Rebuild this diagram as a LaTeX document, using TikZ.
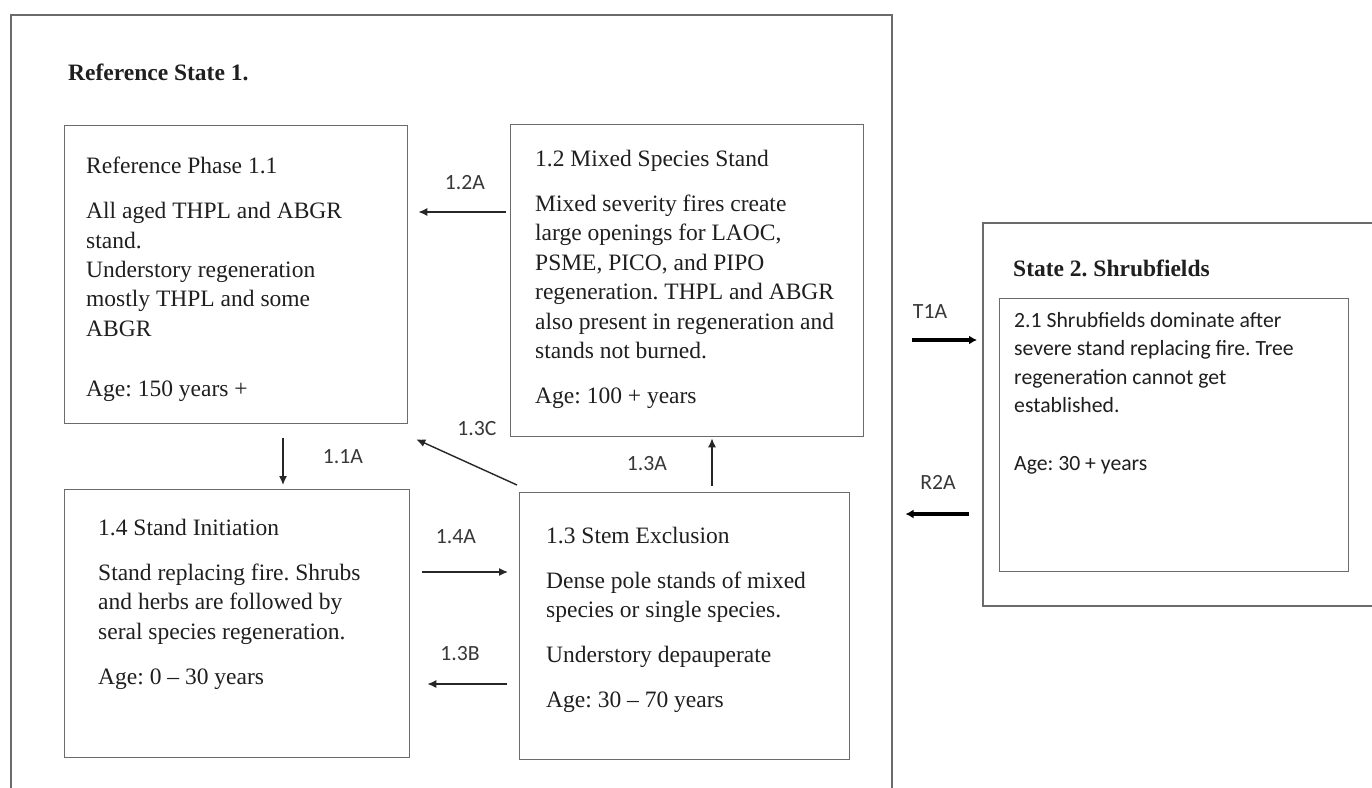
\documentclass[tikz,border=0pt]{standalone}
\usepackage{fontspec}
\setmainfont{Liberation Serif}
\newfontfamily\calibri{Carlito}
\usetikzlibrary{calc,arrows.meta}
\definecolor{boxline}{gray}{0.42}
\definecolor{inktext}{gray}{0.12}
\frenchspacing
\tikzset{
	statebox/.style={draw=boxline, line width=1.5pt, rectangle, inner sep=0pt, anchor=north west},
	phasebox/.style={draw=boxline, line width=1.3pt, rectangle, inner sep=0pt, anchor=north west},
	phasetext/.style={anchor=north west, inner sep=0pt, align=left, text=inktext, font=\fontsize{23.5}{29.4}\selectfont},
	sanstext/.style={anchor=north west, inner sep=0pt, align=left, text=inktext, font=\calibri\fontsize{21.7}{28.5}\selectfont},
	statetitle/.style={anchor=west, inner sep=0pt, text=inktext, font=\bfseries\fontsize{23.5}{28}\selectfont},
	trlabel/.style={inner sep=0pt, text=black!78, font=\calibri\fontsize{21.7}{26}\selectfont},
	trans/.style={draw=black!85, line width=1.4pt, -{Latex[length=9pt,width=8pt]}},
	bigtrans/.style={draw=black, line width=3.5pt, -{Latex[length=8pt,width=9pt]}}
}

\begin{document}
\begin{tikzpicture}[x=1pt,y=-1pt]
		%%%%% START %%%%%
		\useasboundingbox (0,0) rectangle (1372,787);
		\fill[white] (0,0) rectangle (1372,787);
		
		% state 1 and its phases
		\node[statebox, minimum width=881pt, minimum height=820pt] (st1) at (10,14) {};
		\node[statetitle] (st1title) at (68,72) {Reference State 1.};
		
		\node[phasebox, minimum width=343pt, minimum height=298pt] (ph11) at (64,125) {};
		\node[phasetext] (tx11) at (86,157) {Reference Phase 1.1\\[15.6pt]
			All aged THPL and ABGR\\
			stand.\\
			Understory regeneration\\
			mostly THPL and some\\
			ABGR\\[30.6pt]
			Age: 150 years +};
		
		\node[phasebox, minimum width=353pt, minimum height=312pt] (ph12) at (510,124) {};
		\node[phasetext] (tx12) at (535,150) {1.2 Mixed Species Stand\\[15.6pt]
			Mixed severity fires create\\
			large openings for LAOC,\\
			PSME, PICO, and PIPO\\
			regeneration. THPL and ABGR\\
			also present in regeneration and\\
			stands not burned.\\[15.6pt]
			Age: 100 + years};
		
		\node[phasebox, minimum width=345pt, minimum height=268pt] (ph14) at (64,489) {};
		\node[phasetext] (tx14) at (98,519) {1.4 Stand Initiation\\[15.6pt]
			Stand replacing fire. Shrubs\\
			and herbs are followed by\\
			seral species regeneration.\\[15.6pt]
			Age: 0 -- 30 years};
		
		\node[phasebox, minimum width=330pt, minimum height=267pt] (ph13) at (519,492) {};
		\node[phasetext] (tx13) at (546,527) {1.3 Stem Exclusion\\[15.6pt]
			Dense pole stands of mixed\\
			species or single species.\\[15.6pt]
			Understory depauperate\\[15.6pt]
			Age: 30 -- 70 years};
		
		% state 2
		\node[statebox, minimum width=430pt, minimum height=383pt] (st2) at (982,222) {};
		\node[statetitle] (st2title) at (1013,268) {State 2. Shrubfields};
		\node[phasebox, minimum width=349pt, minimum height=273pt] (ph21) at (999,298) {};
		\node[sanstext] (tx21) at (1014,312) {2.1 Shrubfields dominate after\\
			severe stand replacing fire. Tree\\
			regeneration cannot get\\
			established.\\[29.5pt]
			Age: 30 + years};
		
		% transitions inside state 1
		\draw[trans] ($(ph12.north west)+(-4,88)$) -- ($(ph11.north east)+(10,87)$);
		\node[trlabel] (lb12a) at (465,183) {1.2A};
		
		\draw[trans] ($(ph13.north west)+(-2,-7)$) -- ($(ph11.south east)+(8,15)$);
		\node[trlabel] (lb13c) at (477,429) {1.3C};
		
		\draw[trans] ($(ph13.north west)+(193,-6)$) -- ($(ph12.south west)+(202,1)$);
		\node[trlabel] (lb13a) at (647,464) {1.3A};
		
		\draw[trans] ($(ph11.south west)+(219,14)$) -- ($(ph14.north west)+(219,-4)$);
		\node[trlabel] (lb11a) at (343,457) {1.1A};
		
		\draw[trans] ($(ph14.north east)+(12,83)$) -- ($(ph13.north west)+(-11,80)$);
		\node[trlabel] (lb14a) at (456,537) {1.4A};
		
		\draw[trans] ($(ph13.north west)+(-12,192)$) -- ($(ph14.north east)+(17,195)$);
		\node[trlabel] (lb13b) at (460,654) {1.3B};
		
		% transitions between states
		\draw[bigtrans] ($(st1.north east)+(19,326)$) -- ($(st2.north west)+(-5,118)$);
		\node[trlabel] (lbt1a) at (930,312) {T1A};
		
		\draw[bigtrans] ($(st2.north west)+(-13,292)$) -- ($(st1.north east)+(13,500)$);
		\node[trlabel] (lbr2a) at (938,482) {R2A};
		
		%%%%% END %%%%%
	\end{tikzpicture}
\end{document}
